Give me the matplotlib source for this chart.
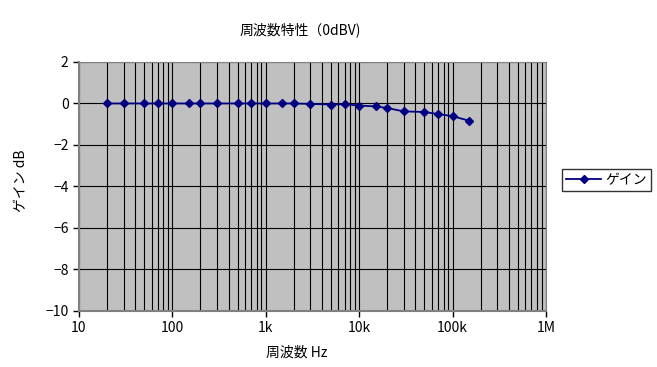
import numpy as np
import matplotlib.pyplot as plt
from matplotlib.ticker import LogLocator, NullFormatter

plt.rcParams['font.family'] = ['Noto Sans CJK JP', 'DejaVu Sans']

# data
freq = [20, 30, 50, 70, 100, 150, 200, 300, 500, 700,
        1000, 1500, 2000, 3000, 5000, 7000,
        10000, 15000, 20000, 30000, 50000, 70000, 100000, 150000]
gain = [0.0, 0.0, 0.0, 0.0, 0.0, 0.0, 0.0, 0.0, 0.0, 0.0,
        0.0, 0.0, 0.0, -0.02, -0.05, -0.04,
        -0.1, -0.14, -0.22, -0.38, -0.41, -0.51, -0.61, -0.83]
xticks = [10, 100, 1000, 10000, 100000, 1000000]
xticklabels = ['10', '100', '1k', '10k', '100k', '1M']
yticks = [2, 0, -2, -4, -6, -8, -10]

fig = plt.figure(figsize=(6.57, 3.67), dpi=100)
ax = fig.add_axes([0.1202, 0.1526, 0.7108, 0.6785])
ax.set_facecolor('#c0c0c0')

ax.plot(freq, gain, '-D', color='#000080', markersize=4.5, linewidth=1.3, label='ゲイン')

ax.set_xscale('log')
ax.set_xlim(10, 1e6)
ax.set_ylim(-10, 2)
ax.set_xticks(xticks)
ax.set_xticklabels(xticklabels)
ax.xaxis.set_minor_locator(LogLocator(base=10, subs=np.arange(2, 10)))
ax.xaxis.set_minor_formatter(NullFormatter())
ax.tick_params(axis='x', which='minor', length=0)
ax.set_yticks(yticks)
ax.set_yticklabels([str(v).replace('-', '\u2212') for v in yticks])
ax.tick_params(axis='both', which='major', direction='out', length=4, width=1,
               labelsize=10, color='black')

ax.grid(True, which='both', axis='x', color='black', linewidth=0.8)
ax.grid(True, which='major', axis='y', color='black', linewidth=0.8)
ax.set_axisbelow(True)
for side in ['top', 'right']:
    ax.spines[side].set_color('#808080')
for side in ['left', 'bottom']:
    ax.spines[side].set_color('#808080')
    ax.spines[side].set_linewidth(1.5)

fig.text(0.457, 0.918, '周波数特性（0dBV)', ha='center', va='center', fontsize=10)
fig.text(0.452, 0.038, '周波数 Hz', ha='center', va='center', fontsize=10)
fig.text(0.032, 0.507, 'ゲイン dB', ha='center', va='center', rotation=90, fontsize=10)

leg = fig.legend(loc='center', bbox_to_anchor=(0.923, 0.51), fontsize=10,
                 frameon=True, fancybox=False, edgecolor='black', handlelength=2.5,
                 borderpad=0.3, handletextpad=0.3)
leg.get_frame().set_linewidth(1)

fig.savefig('out.png', dpi=100)
